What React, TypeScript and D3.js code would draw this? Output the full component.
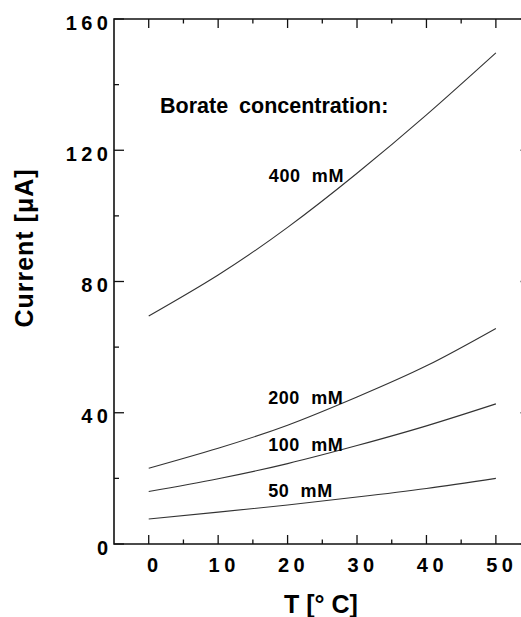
import React from 'react';
import * as d3 from 'd3';

// temperatures (deg C) at which the curves were read
const temps = [0, 10, 20, 30, 40, 50];
// current in microamps for each borate concentration
const borate400 = [69.5, 82, 96.5, 113, 130.8, 149.7];
const borate200 = [23.1, 29.2, 36.2, 44.8, 54.3, 65.7];
const borate100 = [16.0, 19.9, 24.5, 30.0, 36.0, 42.7];
const borate50 = [7.6, 9.7, 11.9, 14.3, 16.9, 20.0];

const seriesLabels = ['400  mM', '200  mM', '100  mM', '50  mM'];
const xTickLabels = ['0', '10', '20', '30', '40', '50'];
const yTickLabels = ['0', '40', '80', '120', '160'];

const width = 521;
const height = 617;
const font = "'Liberation Sans', Arial, Helvetica, sans-serif";

export default function App() {
  const x = d3.scaleLinear().domain([-5, 55]).range([114, 530.6]);
  const y = d3.scaleLinear().domain([0, 160]).range([544, 19]);

  const series = [borate400, borate200, borate100, borate50];
  const line = d3.line<number>()
    .x((_, i) => x(temps[i]))
    .y(d => y(d))
    .curve(d3.curveNatural);

  const xMinor = d3.range(0, 56, 5);
  const yMinor = d3.range(0, 161, 20);

  // label anchor positions (data coords)
  const labelPos = [
    { t: 17.3, v: 110.2 },
    { t: 17.2, v: 42.6 },
    { t: 17.2, v: 28.2 },
    { t: 17.2, v: 14.2 },
  ];

  return (
    <svg width={width} height={height} style={{ position: 'absolute', left: 0, top: 0, background: '#fff' }}
      fontFamily={font} fontWeight="bold">
      <rect x={0} y={0} width={width} height={height} fill="#fff" />

      {/* frame */}
      <path d={`M${x(55)},${y(160)} H${x(-5)} V${y(0)} H${x(55)} V${y(160)}`} fill="none" stroke="#111" strokeWidth={1.6} />

      {/* x ticks, bottom + top */}
      {xMinor.map(t => {
        const major = t % 10 === 0;
        const len = major ? 9 : 4.5;
        return (
          <g key={'xt' + t}>
            <line x1={x(t)} x2={x(t)} y1={y(0)} y2={y(0) - len} stroke="#111" strokeWidth={1.3} />
            <line x1={x(t)} x2={x(t)} y1={y(160)} y2={y(160) + len} stroke="#111" strokeWidth={1.3} />
          </g>
        );
      })}

      {/* y ticks, left + right */}
      {yMinor.map(v => {
        const major = v % 40 === 0;
        const len = major ? 10 : 5;
        return (
          <g key={'yt' + v}>
            <line x1={x(-5)} x2={x(-5) + len} y1={y(v)} y2={y(v)} stroke="#111" strokeWidth={1.3} />
            <line x1={x(55)} x2={x(55) - len} y1={y(v)} y2={y(v)} stroke="#111" strokeWidth={1.3} />
          </g>
        );
      })}

      {/* x tick labels */}
      {xTickLabels.map((s, i) => (
        <text key={'xl' + s} x={x(temps[i]) + 6} y={572} textAnchor="middle" fontSize={20}
          letterSpacing={4.5}>{s}</text>
      ))}

      {/* y tick labels */}
      {yTickLabels.map(s => (
        <text key={'yl' + s} x={112.5} y={y(+s) + 10.5} textAnchor="end" fontSize={20}
          letterSpacing={4.5}>{s}</text>
      ))}

      {/* curves */}
      {series.map((s, i) => (
        <path key={'c' + i} d={line(s) || ''} fill="none" stroke="#333" strokeWidth={1.1} />
      ))}

      {/* legend title and curve labels */}
      <text x={160} y={113} fontSize={21.5} wordSpacing={5}>Borate concentration:</text>
      {seriesLabels.map((s, i) => (
        <text key={'sl' + i} x={x(labelPos[i].t)} y={y(labelPos[i].v)} fontSize={18}
          letterSpacing={0.6} style={{ whiteSpace: 'pre' }}>{s}</text>
      ))}

      {/* axis titles */}
      <text transform={`translate(33,248) rotate(-90)`} textAnchor="middle" fontSize={25}
        letterSpacing={1}>Current [μA]</text>
      <text x={321} y={613} textAnchor="middle" fontSize={25} style={{ whiteSpace: 'pre' }}>T [° C]</text>
    </svg>
  );
}
